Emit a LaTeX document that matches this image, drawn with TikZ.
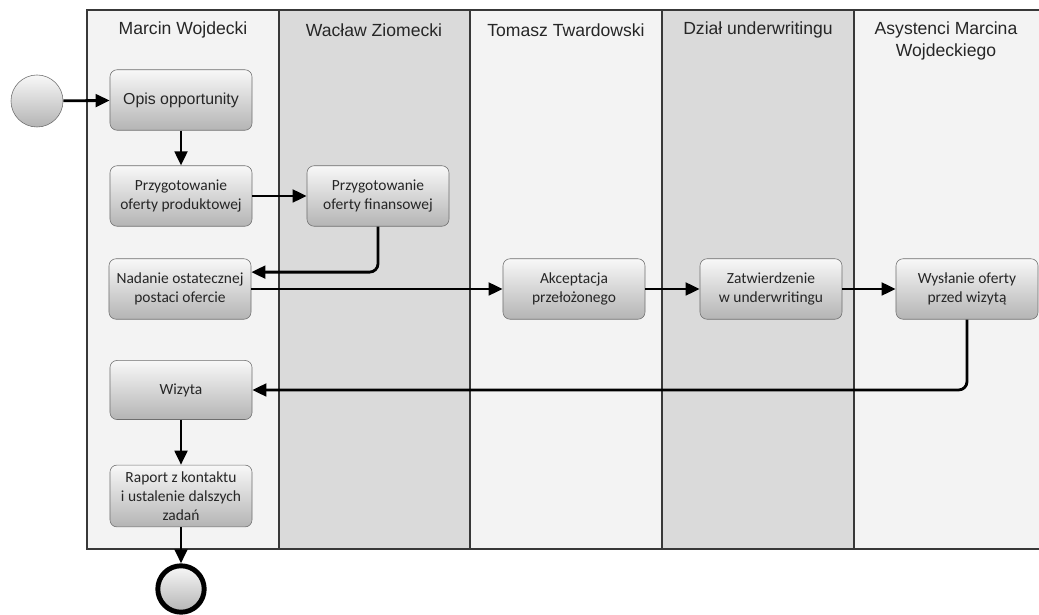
\documentclass[tikz,border=0pt]{standalone}
\usepackage{fontspec}
\setmainfont{Carlito}
\newfontfamily\lanefont{Liberation Sans}
\usetikzlibrary{arrows.meta}
\definecolor{lanelight}{HTML}{F3F3F3}
\definecolor{lanedark}{HTML}{DADADA}
\definecolor{laneline}{HTML}{383838}
\definecolor{tasktop}{HTML}{F8F8F8}
\definecolor{taskbottom}{HTML}{B4B4B4}
\definecolor{taskborder}{HTML}{6E6E6E}
\tikzset{
  task/.style={draw=taskborder, rounded corners=5pt, top color=tasktop,
    bottom color=taskbottom, minimum width=101pt, minimum height=43pt,
    align=center, inner sep=2pt, text=black!85,
    font=\fontsize{11}{13.5}\selectfont},
  lanehead/.style={font=\lanefont\fontsize{12.5}{15.5}\selectfont,
    align=center, text=black!85},
  event/.style={circle, draw=taskborder, top color=tasktop,
    bottom color=taskbottom, minimum size=37pt, inner sep=0pt},
  flow/.style={line width=2pt, -{Triangle[length=10pt,width=9pt]}},
}
\begin{document}
\begin{tikzpicture}[x=0.025cm,y=-0.025cm]
  \useasboundingbox (0,0) rectangle (1039,615);
  % lanes
  \fill[white] (0,0) rectangle (1039,615);
  \fill[lanelight] (87,10) rectangle (279,549);
  \fill[lanedark] (279,10) rectangle (470,549);
  \fill[lanelight] (470,10) rectangle (662,549);
  \fill[lanedark] (662,10) rectangle (854,549);
  \fill[lanelight] (854,10) rectangle (1045,549);
  \draw[laneline, line width=1.2pt] (1045,10) -- (87,10) -- (87,549) -- (1045,549);
  \foreach \x in {279,470,662,854}
    \draw[laneline, line width=1.2pt] (\x,10) -- (\x,549);
  \node[lanehead] (h1) at (183,30) {Marcin Wojdecki};
  \node[lanehead] (h2) at (374,30) {Wacław Ziomecki};
  \node[lanehead] (h3) at (566,30) {Tomasz Twardowski};
  \node[lanehead] (h4) at (758,30) {Dział underwritingu};
  \node[lanehead] (h5) at (946,41) {Asystenci Marcina\\Wojdeckiego};
  % tasks
  \node[event] (start) at (37,101) {};
  \node[task, font=\lanefont\fontsize{11.3}{13.5}\selectfont] (opis) at (181,100) {Opis opportunity};
  \node[task] (prod) at (181,196) {Przygotowanie\\oferty produktowej};
  \node[task] (fin) at (378,196) {Przygotowanie\\oferty finansowej};
  \node[task] (nad) at (180,289) {Nadanie ostatecznej\\postaci ofercie};
  \node[task] (akc) at (574,289) {Akceptacja\\przełożonego};
  \node[task] (zat) at (771,289) {Zatwierdzenie\\w underwritingu};
  \node[task] (wys) at (967,289) {Wysłanie oferty\\przed wizytą};
  \node[task, minimum height=42pt] (wiz) at (181,390) {Wizyta};
  \node[task, minimum height=44pt] (rap) at (181,496) {Raport z kontaktu\\i ustalenie dalszych\\zadań};
  \node[event, draw=black, line width=3.5pt, minimum size=33pt] (end) at (181,589) {};
  % flows
  \begin{scope}[flow]
    \draw (start) to (opis);
    \draw (opis) to (prod);
    \draw (prod) to (fin);
    \draw[rounded corners=6] (fin.south) |- ([yshift=12pt]nad.east);
    \draw (nad) to (akc);
    \draw (akc) to (zat);
    \draw (zat) to (wys);
    \draw[rounded corners=6] (wys.south) |- (wiz.east);
    \draw (wiz) to (rap);
    \draw (rap) to (end);
  \end{scope}
\end{tikzpicture}
\end{document}
